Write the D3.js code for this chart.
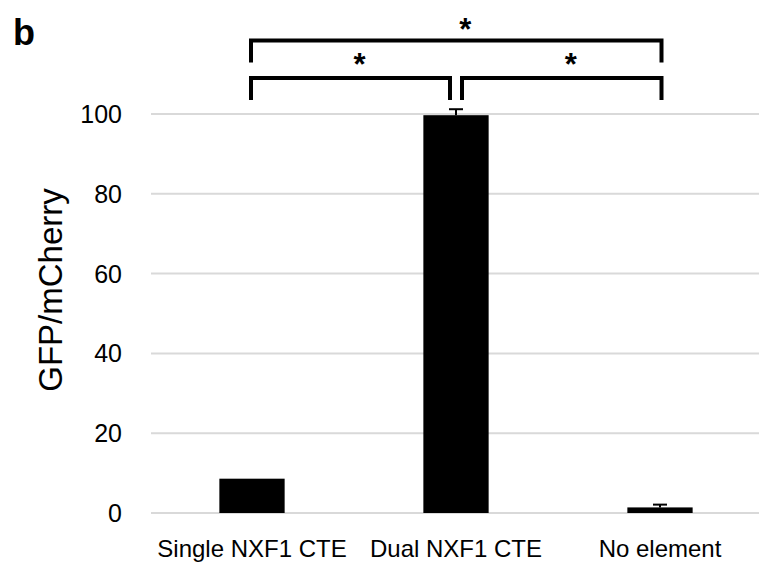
<!DOCTYPE html>
<html>
<head>
<meta charset="utf-8">
<script src="https://cdn.jsdelivr.net/npm/d3@7"></script>
<style>
  body { margin: 0; background: #fff; }
  svg { display: block; font-family: "Liberation Sans", Arial, sans-serif; }
</style>
</head>
<body>
<svg id="chart" width="759" height="563"></svg>
<script>
var categories = ["Single NXF1 CTE", "Dual NXF1 CTE", "No element"];
var values = [8.6, 99.7, 1.4];
var errors = [0, 1.5, 0.7];
var yTicks = [0, 20, 40, 60, 80, 100];
// significance brackets: [from, to, level]
var brackets = [[0, 1, 0], [1, 2, 0], [0, 2, 1]];
var sigLabel = "*";

var svg = d3.select("#chart");

var x = d3.scaleBand()
    .domain(categories)
    .range([150, 762])
    .paddingInner(0.68)
    .paddingOuter(0.34);

var y = d3.scaleLinear()
    .domain([0, 100])
    .range([513, 114]);

// gridlines
svg.append("g")
  .selectAll("line")
  .data(yTicks)
  .join("line")
    .attr("x1", 151)
    .attr("x2", 759)
    .attr("y1", function(d) { return y(d); })
    .attr("y2", function(d) { return y(d); })
    .attr("stroke", "#d9d9d9")
    .attr("stroke-width", 2);

// y tick labels
svg.append("g")
  .selectAll("text")
  .data(yTicks)
  .join("text")
    .attr("x", 122)
    .attr("y", function(d) { return y(d) + 9; })
    .attr("text-anchor", "end")
    .attr("font-size", 25)
    .attr("fill", "#000")
    .text(function(d) { return d; });

// bars
var data = categories.map(function(c, i) { return {cat: c, v: values[i], e: errors[i]}; });

svg.append("g")
  .selectAll("rect")
  .data(data)
  .join("rect")
    .attr("x", function(d) { return x(d.cat); })
    .attr("width", x.bandwidth())
    .attr("y", function(d) { return y(d.v); })
    .attr("height", function(d) { return y(0) - y(d.v); })
    .attr("fill", "#000");

// error bars
var eb = svg.append("g").attr("stroke", "#000").attr("stroke-width", 2);
data.filter(function(d) { return d.e > 0; }).forEach(function(d) {
  var cx = x(d.cat) + x.bandwidth() / 2;
  eb.append("line")
      .attr("x1", cx).attr("x2", cx)
      .attr("y1", y(d.v)).attr("y2", y(d.v + d.e));
  eb.append("line")
      .attr("x1", cx - 7).attr("x2", cx + 7)
      .attr("y1", y(d.v + d.e)).attr("y2", y(d.v + d.e));
});

// x labels
svg.append("g")
  .selectAll("text")
  .data(categories)
  .join("text")
    .attr("x", function(d) { return x(d) + x.bandwidth() / 2; })
    .attr("y", 557)
    .attr("text-anchor", "middle")
    .attr("font-size", 24)
    .attr("fill", "#000")
    .text(function(d) { return d; });

// significance brackets
function cxOf(i, side) {
  var c = x(categories[i]) + x.bandwidth() / 2;
  if (i === 1) return c + side * 6;
  return c + (i === 2 ? 1.5 : -1);
}
var bg = svg.append("g");
brackets.forEach(function(b) {
  var top = 78 - b[2] * 37.5;
  var x1 = cxOf(b[0], -1), x2 = cxOf(b[1], 1);
  if (b[2] === 0 && b[0] === 0) x2 = cxOf(1, -1);
  if (b[2] === 0 && b[0] === 1) x1 = cxOf(1, 1);
  bg.append("path")
      .attr("d", "M" + x1 + "," + (top + 22) + "V" + top + "H" + x2 + "V" + (top + 22))
      .attr("fill", "none")
      .attr("stroke", "#000")
      .attr("stroke-width", 4);
  bg.append("text")
      .attr("x", (x1 + x2) / 2 + 9)
      .attr("y", top - (b[2] ? 1 : 3))
      .attr("text-anchor", "middle")
      .attr("font-size", 31)
      .attr("font-weight", "bold")
      .attr("fill", "#000")
      .text(sigLabel);
});

// y axis title
svg.append("text")
    .attr("transform", "translate(62,290) rotate(-90)")
    .attr("text-anchor", "middle")
    .attr("font-size", 33)
    .attr("fill", "#000")
    .text("GFP/mCherry");

// panel letter
svg.append("text")
    .attr("x", 13)
    .attr("y", 45)
    .attr("font-size", 36)
    .attr("font-weight", "bold")
    .attr("fill", "#000")
    .text("b");
</script>
</body>
</html>
